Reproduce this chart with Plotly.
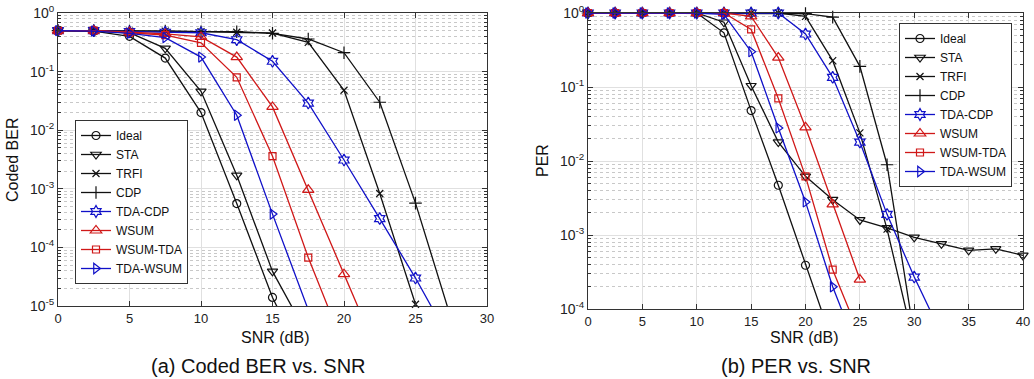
import plotly.graph_objects as go

# ---------------- data ----------------
snr_ber = [0, 2.5, 5, 7.5, 10, 12.5, 15, 17.5, 20, 22.5, 25, 27.5, 30]
ber_ideal = [0.5, 0.49, 0.40, 0.17, 0.020, 5.6e-4, 1.4e-5, 8e-7]
ber_sta = [0.5, 0.49, 0.46, 0.25, 0.046, 1.7e-3, 3.9e-5, 3e-6]
ber_trfi = [0.5, 0.5, 0.49, 0.49, 0.48, 0.47, 0.455, 0.315, 0.048, 8.3e-4, 1.07e-5, 5e-8]
ber_cdp = [0.5, 0.5, 0.49, 0.49, 0.48, 0.48, 0.45, 0.36, 0.21, 0.030, 5.7e-4, 6e-6]
ber_tda_cdp = [0.5, 0.5, 0.48, 0.47, 0.46, 0.35, 0.15, 0.029, 3.1e-3, 3.1e-4, 3.0e-5, 2.4e-6]
ber_wsum = [0.5, 0.5, 0.47, 0.44, 0.39, 0.177, 0.025, 9.6e-4, 3.5e-5, 1.3e-6]
ber_wsum_tda = [0.5, 0.5, 0.46, 0.42, 0.31, 0.08, 3.6e-3, 6.7e-5, 2e-6]
ber_tda_wsum = [0.5, 0.49, 0.45, 0.38, 0.177, 0.018, 3.7e-4, 9e-6, 2e-7]

snr_per = [0, 2.5, 5, 7.5, 10, 12.5, 15, 17.5, 20, 22.5, 25, 27.5, 30, 32.5, 35, 37.5, 40]
per_ideal = [1, 1, 1, 1, 1, 0.54, 0.048, 4.7e-3, 3.9e-4, 3.5e-5]
per_sta = [1, 1, 1, 1, 1, 0.75, 0.104, 0.018, 6.2e-3, 3.0e-3, 1.6e-3, 1.25e-3, 9.3e-4, 7.6e-4, 6.2e-4, 6.5e-4, 5.3e-4]
per_trfi = [1, 1, 1, 1, 1, 1, 1, 1, 0.90, 0.227, 0.024, 1.2e-3, 3.3e-5]
per_cdp = [1, 1, 1, 1, 1, 1, 1, 1, 0.98, 0.88, 0.19, 8.9e-3, 4.3e-5]
per_tda_cdp = [1, 1, 1, 1, 1, 1, 1, 1, 0.52, 0.135, 0.018, 1.9e-3, 2.7e-4, 4.6e-5]
per_wsum = [1, 1, 1, 1, 1, 1, 0.9, 0.25, 0.0285, 2.6e-3, 2.5e-4]
per_wsum_tda = [1, 1, 1, 1, 1, 1, 0.6, 0.07, 6.2e-3, 3.4e-4, 4.3e-5]
per_tda_wsum = [1, 1, 1, 1, 1, 0.96, 0.3, 0.028, 2.8e-3, 2.0e-4, 2.3e-5]

names = ["Ideal", "STA", "TRFI", "CDP", "TDA-CDP", "WSUM", "WSUM-TDA", "TDA-WSUM"]
ber_series = [ber_ideal, ber_sta, ber_trfi, ber_cdp, ber_tda_cdp, ber_wsum, ber_wsum_tda, ber_tda_wsum]
per_series = [per_ideal, per_sta, per_trfi, per_cdp, per_tda_cdp, per_wsum, per_wsum_tda, per_tda_wsum]

# ---------------- styles ----------------
BLACK = "#111111"
BLUE = "#1010C8"
RED = "#D01818"
styles = [
    (BLACK, "circle-open", 8),
    (BLACK, "triangle-down-open", 9),
    (BLACK, "x-thin-open", 7),
    (BLACK, "cross-thin-open", 9),
    (BLUE, "hexagram-open", 9),
    (RED, "triangle-up-open", 10),
    (RED, "square-open", 7),
    (BLUE, "triangle-right-open", 9),
]

FONT = "Liberation Sans"
W, H = 1034, 379

fig = go.Figure()

for name, ys, (col, sym, sz) in zip(names, ber_series, styles):
    fig.add_trace(go.Scatter(
        x=snr_ber[:len(ys)], y=ys, name=name, mode="lines+markers",
        line=dict(color=col, width=1.3),
        marker=dict(symbol=sym, size=sz, color=col, line=dict(color=col, width=1.2)),
        cliponaxis=False, xaxis="x", yaxis="y", legend="legend"))

for name, ys, (col, sym, sz) in zip(names, per_series, styles):
    fig.add_trace(go.Scatter(
        x=snr_per[:len(ys)], y=ys, name=name, mode="lines+markers",
        line=dict(color=col, width=1.3),
        marker=dict(symbol=sym, size=sz, color=col, line=dict(color=col, width=1.2)),
        cliponaxis=False, xaxis="x2", yaxis="y2", legend="legend2"))


def px_x(p):
    return p / W


def px_y(p):
    return 1 - p / H


def ylog_axis(lo, domain, anchor):
    vals = [10.0 ** e for e in range(lo, 1)]
    texts = ["10<sup>%d</sup>" % e for e in range(lo, 1)]
    minor_vals = [m * 10.0 ** e for e in range(lo, 0) for m in range(2, 10)]
    return dict(
        type="log", range=[lo, 0], domain=domain, anchor=anchor, automargin=False,
        tickmode="array", tickvals=vals, ticktext=texts,
        showline=True, linecolor="#333333", linewidth=1, mirror="ticks",
        ticks="inside", ticklen=5, tickcolor="#333333",
        showgrid=True, gridcolor="#E0E0E0", gridwidth=1,
        tickfont=dict(family=FONT, size=14, color="#222222"),
        minor=dict(tickmode="array", tickvals=minor_vals, ticks="inside", ticklen=3,
                   tickcolor="#333333", showgrid=True, gridcolor="#C8C8C8",
                   griddash="dot", gridwidth=1),
        zeroline=False,
    )


def x_axis(rng, dt, domain, anchor):
    return dict(
        range=rng, dtick=dt, tick0=0, domain=domain, anchor=anchor, automargin=False,
        showline=True, linecolor="#333333", linewidth=1, mirror="ticks",
        ticks="inside", ticklen=5, tickcolor="#333333",
        showgrid=True, gridcolor="#E0E0E0", gridwidth=1,
        tickfont=dict(family=FONT, size=13, color="#222222"),
        zeroline=False,
    )


fig.update_layout(
    width=W, height=H,
    margin=dict(l=0, r=0, t=0, b=0, pad=0, autoexpand=False),
    paper_bgcolor="white", plot_bgcolor="white",
    font=dict(family=FONT, color="#111111"),
    xaxis=x_axis([0, 30], 5, [px_x(58), px_x(487)], "y"),
    yaxis=ylog_axis(-5, [px_y(306), px_y(13)], "x"),
    xaxis2=x_axis([0, 40], 5, [px_x(588), px_x(1023)], "y2"),
    yaxis2=ylog_axis(-4, [px_y(309), px_y(13)], "x2"),
    legend=dict(x=px_x(75), y=px_y(284), xanchor="left", yanchor="bottom",
                bgcolor="white", bordercolor="#333333", borderwidth=1,
                font=dict(family=FONT, size=12, color="#111111"),
                tracegroupgap=0, itemwidth=30),
    legend2=dict(x=px_x(1012), y=px_y(23), xanchor="right", yanchor="top",
                 bgcolor="white", bordercolor="#333333", borderwidth=1,
                 font=dict(family=FONT, size=12, color="#111111"),
                 tracegroupgap=0, itemwidth=30),
    showlegend=True,
)

ann = [
    dict(text="Coded BER", x=px_x(13), y=px_y(160), textangle=-90, size=16),
    dict(text="PER", x=px_x(542), y=px_y(161), textangle=-90, size=16),
    dict(text="SNR (dB)", x=px_x(275), y=px_y(337), textangle=0, size=16),
    dict(text="SNR (dB)", x=px_x(804), y=px_y(337), textangle=0, size=16),
    dict(text="(a) Coded BER vs. SNR", x=px_x(258), y=px_y(366), textangle=0, size=20),
    dict(text="(b) PER vs. SNR", x=px_x(796), y=px_y(366), textangle=0, size=20),
]
for a in ann:
    fig.add_annotation(text=a["text"], x=a["x"], y=a["y"], xref="paper", yref="paper",
                       showarrow=False, textangle=a["textangle"],
                       xanchor="center", yanchor="middle",
                       font=dict(family=FONT, size=a["size"], color="#111111"))

fig.write_html("out.html", config={"displayModeBar": False})

# remove the default browser page margin so the figure sits at the window origin
with open("out.html", "r", encoding="utf-8") as f:
    html = f.read()
html = html.replace("<head>", "<head><style>html,body{margin:0;padding:0;overflow:hidden;}</style>", 1)
with open("out.html", "w", encoding="utf-8") as f:
    f.write(html)
